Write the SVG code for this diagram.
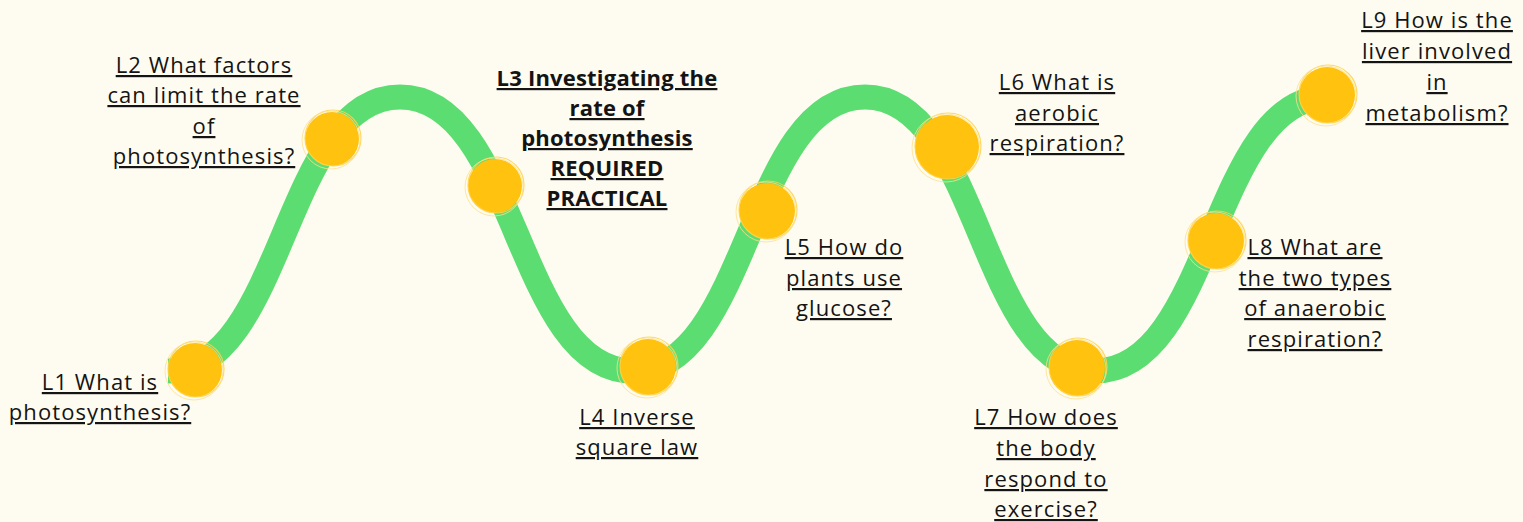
<svg xmlns="http://www.w3.org/2000/svg" width="1523" height="522" viewBox="0 0 1523 522">
<defs>
<style>
.bg{fill:#FEFCF1}
.wave{fill:none;stroke:#5BDD71;stroke-width:25;stroke-linecap:butt}
.dot{fill:#FEC20F}
.sk1{fill:none;stroke:#FFD24A;stroke-width:1.2;opacity:.85}
.sk2{fill:none;stroke:#FFE08A;stroke-width:1;opacity:.8}
.lbl{font-family:"Open Sans","Liberation Sans",sans-serif;font-size:22px;letter-spacing:1.1px;fill:#141414;text-anchor:middle;text-decoration:underline}
.bold{font-weight:700;letter-spacing:0.2px}
</style>
</defs>
<rect class="bg" x="0" y="0" width="1523" height="522"/>
<g id="connectors">
<path class="wave" d="M168,371 C284,371 284,97 400,97 C516.5,97 516.5,371 633,371 C749,371 749,97 865,97 C980,97 980,371 1095,371 C1212,371 1212,97 1328,97"/>
</g>
<g id="L1">
<circle class="dot" cx="195" cy="370" r="27"/>
<circle class="sk1" cx="196" cy="369" r="28"/>
<circle class="sk2" cx="194" cy="371" r="29"/>
<text class="lbl"><tspan x="100" y="390">L1 What is</tspan><tspan x="100" y="420">photosynthesis?</tspan></text>
</g>
<g id="L2">
<circle class="dot" cx="332" cy="139" r="27"/>
<circle class="sk1" cx="333" cy="138" r="28"/>
<circle class="sk2" cx="331" cy="140" r="29"/>
<text class="lbl"><tspan x="204" y="73">L2 What factors</tspan><tspan x="204" y="103">can limit the rate</tspan><tspan x="204" y="134">of</tspan><tspan x="204" y="164">photosynthesis?</tspan></text>
</g>
<g id="L3">
<circle class="dot" cx="495" cy="186" r="27"/>
<circle class="sk1" cx="496" cy="185" r="28"/>
<circle class="sk2" cx="494" cy="187" r="29"/>
<text class="lbl bold"><tspan x="607" y="86">L3 Investigating the</tspan><tspan x="607" y="116">rate of</tspan><tspan x="607" y="146">photosynthesis</tspan><tspan x="607" y="176">REQUIRED</tspan><tspan x="607" y="206">PRACTICAL</tspan></text>
</g>
<g id="L4">
<circle class="dot" cx="648" cy="367" r="28"/>
<circle class="sk1" cx="649" cy="366" r="29"/>
<circle class="sk2" cx="647" cy="368" r="30"/>
<text class="lbl"><tspan x="637" y="425">L4 Inverse</tspan><tspan x="637" y="455">square law</tspan></text>
</g>
<g id="L5">
<circle class="dot" cx="767" cy="211" r="28"/>
<circle class="sk1" cx="768" cy="210" r="29"/>
<circle class="sk2" cx="766" cy="212" r="30"/>
<text class="lbl"><tspan x="844" y="255">L5 How do</tspan><tspan x="844" y="286">plants use</tspan><tspan x="844" y="316">glucose?</tspan></text>
</g>
<g id="L6">
<circle class="dot" cx="947" cy="147" r="32"/>
<circle class="sk1" cx="948" cy="146" r="33"/>
<circle class="sk2" cx="946" cy="148" r="34"/>
<text class="lbl"><tspan x="1057" y="90">L6 What is</tspan><tspan x="1057" y="121">aerobic</tspan><tspan x="1057" y="151">respiration?</tspan></text>
</g>
<g id="L7">
<circle class="dot" cx="1077" cy="368" r="28"/>
<circle class="sk1" cx="1078" cy="367" r="29"/>
<circle class="sk2" cx="1076" cy="369" r="30"/>
<text class="lbl"><tspan x="1046" y="425">L7 How does</tspan><tspan x="1046" y="456">the body</tspan><tspan x="1046" y="487">respond to</tspan><tspan x="1046" y="517">exercise?</tspan></text>
</g>
<g id="L8">
<circle class="dot" cx="1216" cy="241" r="28"/>
<circle class="sk1" cx="1217" cy="240" r="29"/>
<circle class="sk2" cx="1215" cy="242" r="30"/>
<text class="lbl"><tspan x="1315" y="255">L8 What are</tspan><tspan x="1315" y="286">the two types</tspan><tspan x="1315" y="316">of anaerobic</tspan><tspan x="1315" y="347">respiration?</tspan></text>
</g>
<g id="L9">
<circle class="dot" cx="1327" cy="95" r="28"/>
<circle class="sk1" cx="1328" cy="94" r="29"/>
<circle class="sk2" cx="1326" cy="96" r="30"/>
<text class="lbl"><tspan x="1437" y="28">L9 How is the</tspan><tspan x="1437" y="59">liver involved</tspan><tspan x="1437" y="90">in</tspan><tspan x="1437" y="121">metabolism?</tspan></text>
</g>
</svg>
